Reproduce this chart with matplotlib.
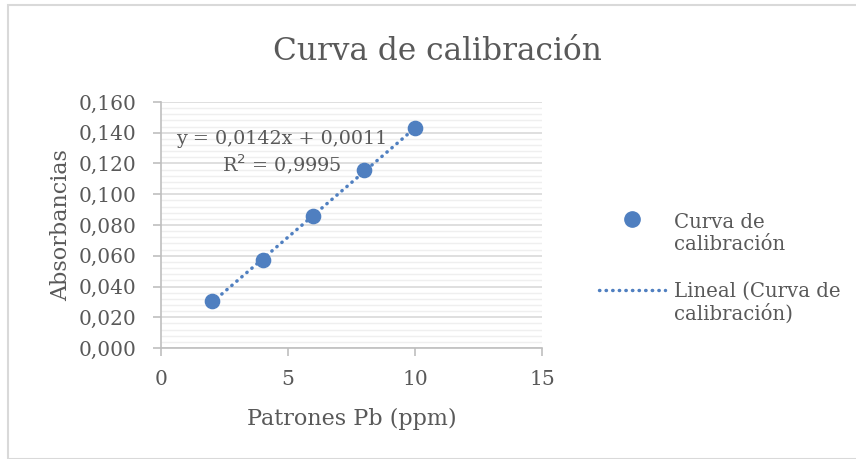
import numpy as np
import matplotlib.pyplot as plt
from matplotlib.ticker import MultipleLocator, FuncFormatter
from matplotlib.lines import Line2D
from matplotlib.patches import Rectangle

# datos de la curva de calibracion
patrones = [2, 4, 6, 8, 10]
absorbancias = [0.0305, 0.0570, 0.0860, 0.1160, 0.1430]
ecuacion = "y = 0,0142x + 0,0011"
r2 = "R$^2$ = 0,9995"
pendiente = 0.0142
intercepto = 0.0011

azul = '#4F7FC0'
gris = '#595959'
plt.rcParams['font.family'] = ['DejaVu Serif']

W, H = 856, 459
fig = plt.figure(figsize=(W / 100, H / 100), dpi=100)
fig.add_artist(Rectangle((8 / W, 0), 1, 1 - 5 / H, transform=fig.transFigure,
                         fill=False, ec='#D9D9D9', lw=1.5))

ax = fig.add_axes([161 / W, 1 - 348 / H, (542 - 161) / W, (348 - 102) / H])
ax.set_xlim(0, 15)
ax.set_ylim(0, 0.16)
ax.xaxis.set_major_locator(MultipleLocator(5))
ax.yaxis.set_major_locator(MultipleLocator(0.02))
ax.yaxis.set_minor_locator(MultipleLocator(0.004))
ax.yaxis.set_major_formatter(FuncFormatter(lambda v, p: f"{v:.3f}".replace('.', ',')))
ax.grid(True, which='major', axis='y', color='#D9D9D9', lw=1.2)
ax.grid(True, which='minor', axis='y', color='#EFEFEF', lw=1.0)
ax.set_axisbelow(True)
for s in ['top', 'right']:
    ax.spines[s].set_visible(False)
for s in ['left', 'bottom']:
    ax.spines[s].set_color('#BFBFBF')
    ax.spines[s].set_linewidth(1.2)
ax.tick_params(which='major', length=5.5, color='#BFBFBF', width=1.2, labelsize=14.5,
               labelcolor=gris)
ax.tick_params(axis='y', pad=12)
ax.tick_params(axis='x', pad=10)
ax.tick_params(which='minor', length=0)

# linea de tendencia
xt = np.array([patrones[0], patrones[-1]])
ax.plot(xt, pendiente * xt + intercepto, ls=(0, (0.1, 1.8)), color=azul, lw=2.5,
        dash_capstyle='round')
ax.scatter(patrones, absorbancias, s=105, color=azul, zorder=3, clip_on=False)

ax.text(0.318, 0.793, ecuacion + "\n" + r2, transform=ax.transAxes, ha='center',
        va='center', fontsize=13.8, color=gris, linespacing=1.25)

ax.set_xlabel("Patrones Pb (ppm)", fontsize=16, color=gris, labelpad=14)
ax.set_ylabel("Absorbancias", fontsize=16, color=gris, labelpad=5)
fig.text(437 / W, 1 - 52 / H, "Curva de calibración", ha='center', va='center',
         fontsize=22.5, color=gris)

# leyenda
fig.add_artist(Line2D([632 / W], [1 - 219 / H], marker='o', ms=11, color=azul,
                      transform=fig.transFigure))
fig.add_artist(Line2D([599 / W, 665 / W], [1 - 290 / H] * 2, ls=(0, (0.1, 1.8)),
                      color=azul, lw=2.5, dash_capstyle='round',
                      transform=fig.transFigure))
fig.text(674 / W, 1 - 234 / H, "Curva de\ncalibración", ha='left', va='center',
         fontsize=14.2, color=gris, linespacing=1.2)
fig.text(674 / W, 1 - 303 / H, "Lineal (Curva de\ncalibración)", ha='left',
         va='center', fontsize=14.2, color=gris, linespacing=1.2)

fig.savefig('out.png', dpi=100)
